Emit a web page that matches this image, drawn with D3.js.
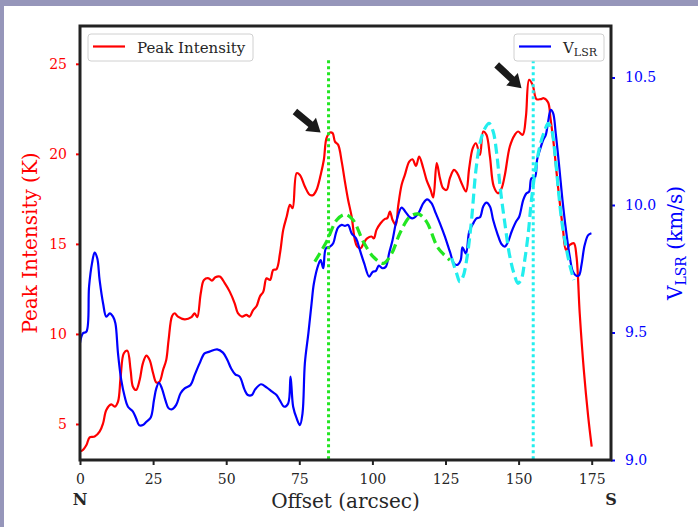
<!DOCTYPE html>
<html>
<head>
<meta charset="utf-8">
<script src="https://cdn.jsdelivr.net/npm/d3@7"></script>
<style>
body { margin: 0; background: #9696ba; }
svg { display: block; }
text { font-family: "DejaVu Serif", serif; }
</style>
</head>
<body>
<div class="chart"></div>
<script>
// Peak intensity (K) along the cut
var intensityOffset = [0, 0.7, 2.2, 3.3, 5.0, 6.7, 7.9, 9.0, 10.7, 11.9, 13.0, 13.9, 15.0, 16.2, 17.3, 18.1, 19.2, 20.4, 21.5, 22.7,
    23.8, 25.0, 26.1, 27.2, 28.4, 29.5, 30.3, 31.5, 32.4, 33.5, 35.8, 38.1, 39.2, 40.1, 41.3, 42.4, 44.0, 45.1, 46.3, 47.8,
    49.5, 51.2, 52.9, 54.0, 55.4, 56.9, 58.0, 59.1, 60.4, 61.5, 62.7, 63.8, 65.0, 66.1, 67.2, 68.4, 69.5, 70.7, 71.8, 72.7,
    74.1, 75.2, 76.9, 78.6, 79.8, 80.9, 82.3, 83.4, 84.3, 85.5, 86.4, 87.2, 88.3, 89.5, 90.6, 91.7, 92.9, 94.0, 94.8, 96.0,
    97.1, 98.2, 99.7, 100.5, 101.4, 102.8, 104.3, 105.1, 106.0, 106.9, 108.0, 108.8, 110.0, 111.1, 112.6, 113.7, 114.9, 116.0, 117.4, 118.5,
    119.9, 120.8, 122.0, 123.1, 124.2, 125.4, 126.5, 127.9, 129.0, 130.5, 132.0, 133.1, 134.3, 135.4, 136.8, 137.9, 139.0, 140.2, 141.5, 143.0,
    144.2, 145.3, 147.0, 148.7, 149.8, 151.4, 152.5, 153.6, 154.8, 156.1, 157.5, 158.6, 160.1, 160.9, 162.1, 163.0, 164.1, 165.2, 166.2, 167.5,
    168.9, 169.8, 170.9, 172.3, 173.8, 175.0];
var intensityK = [3.50, 3.52, 3.83, 4.26, 4.30, 4.57, 5.04, 5.78, 6.09, 5.96, 6.24, 7.63, 8.93, 9.07, 8.00, 7.07, 6.89, 7.44, 8.37, 8.80,
    8.56, 7.82, 7.30, 7.35, 8.00, 8.56, 9.67, 11.00, 11.15, 10.96, 10.81, 10.93, 11.15, 10.93, 12.26, 13.00, 13.09, 12.96, 13.15, 13.19,
    12.82, 12.35, 11.70, 11.15, 10.96, 11.06, 10.96, 11.30, 11.55, 12.07, 12.35, 13.09, 13.00, 13.56, 13.59, 14.48, 15.78, 16.52, 17.17, 16.98,
    18.93, 18.83, 18.19, 17.72, 17.72, 18.00, 18.83, 19.67, 20.87, 21.19, 21.15, 20.68, 20.50, 19.57, 18.46, 17.44, 16.52, 15.22, 14.85, 14.76,
    15.07, 15.31, 15.41, 15.31, 15.78, 16.15, 16.39, 16.43, 16.79, 16.33, 16.06, 17.09, 18.28, 18.83, 19.57, 19.70, 19.33, 19.85, 19.20, 18.56,
    18.00, 17.58, 19.48, 18.65, 18.09, 18.00, 18.65, 19.11, 18.93, 18.37, 17.91, 19.20, 20.31, 20.59, 19.94, 21.24, 21.06, 19.85, 18.19, 17.81,
    18.09, 18.83, 20.41, 21.06, 21.24, 21.06, 22.07, 24.11, 23.83, 23.04, 23.04, 23.09, 22.85, 21.98, 20.41, 18.93, 17.26, 15.78, 14.67, 14.94,
    15.04, 14.30, 11.15, 8.00, 5.41, 3.74];

// V_LSR (km/s) along the cut
var vlsrOffset = [0, 1.0, 2.2, 3.1, 4.1, 5.0, 5.9, 6.7, 7.9, 9.0, 10.2, 11.3, 12.1, 13.0, 14.1, 15.3, 16.4, 18.1, 19.2, 20.2,
    21.5, 22.7, 24.2, 25.3, 26.1, 27.0, 28.0, 29.2, 30.3, 31.5, 32.9, 34.4, 35.8, 37.8, 39.2, 40.9, 42.6, 44.3, 46.9, 48.9,
    50.4, 51.7, 53.1, 54.6, 56.3, 57.4, 58.8, 59.9, 61.9, 63.8, 65.7, 67.2, 68.4, 69.8, 71.2, 72.0, 72.9, 74.1, 75.2, 76.1,
    76.9, 78.1, 79.2, 80.0, 81.5, 82.3, 83.2, 84.1, 85.5, 86.6, 87.5, 88.3, 89.5, 90.6, 91.7, 92.9, 94.4, 95.7, 97.2, 98.9,
    100.1, 101.2, 102.2, 103.5, 104.6, 105.7, 106.9, 108.3, 110.0, 111.5, 112.8, 113.9, 115.7, 117.4, 118.7, 120.2, 121.7, 123.1, 124.8, 126.5,
    127.9, 129.0, 130.2, 130.8, 132.0, 133.1, 134.5, 135.6, 136.8, 137.9, 139.0, 140.2, 141.3, 142.7, 144.2, 145.3, 146.4, 147.6, 149.1, 150.2,
    151.6, 152.7, 153.6, 154.4, 155.6, 156.3, 157.3, 158.4, 159.3, 160.1, 161.0, 161.8, 162.7, 163.9, 165.0, 166.2, 167.5, 168.6, 169.8, 170.7,
    171.5, 172.6, 173.8, 174.9];
var vlsrKms = [9.459, 9.497, 9.503, 9.680, 9.771, 9.813, 9.791, 9.706, 9.614, 9.562, 9.575, 9.562, 9.536, 9.418, 9.314, 9.248, 9.209, 9.190, 9.163, 9.137,
    9.137, 9.150, 9.167, 9.235, 9.281, 9.303, 9.281, 9.235, 9.203, 9.199, 9.216, 9.262, 9.281, 9.294, 9.333, 9.379, 9.418, 9.425, 9.434, 9.421,
    9.392, 9.359, 9.336, 9.327, 9.275, 9.255, 9.255, 9.277, 9.297, 9.285, 9.268, 9.255, 9.233, 9.209, 9.222, 9.327, 9.209, 9.163, 9.137, 9.183,
    9.379, 9.497, 9.614, 9.693, 9.765, 9.784, 9.752, 9.830, 9.837, 9.850, 9.889, 9.912, 9.922, 9.918, 9.922, 9.889, 9.869, 9.824, 9.771, 9.719,
    9.738, 9.742, 9.762, 9.752, 9.758, 9.810, 9.863, 9.941, 9.990, 9.970, 9.952, 9.948, 9.967, 10.007, 10.022, 10.007, 9.967, 9.928, 9.876, 9.817,
    9.771, 9.765, 9.784, 9.834, 9.810, 9.895, 9.928, 9.948, 9.952, 9.994, 10.009, 9.994, 9.941, 9.889, 9.846, 9.837, 9.856, 9.895, 9.934, 9.954,
    10.020, 10.046, 10.052, 10.105, 10.109, 10.176, 10.216, 10.255, 10.275, 10.327, 10.373, 10.360, 10.281, 10.150, 10.020, 9.902, 9.797, 9.738, 9.722, 9.725,
    9.765, 9.843, 9.882, 9.889];

// fitted oscillations (dashed)
var greenFitOffset = [80.3, 84.3, 87.8, 90.6, 93.4, 96.9, 100.3, 103.7, 106.6, 109.4, 112.8, 115.7, 118.5, 122.5, 126.5];
var greenFitKms = [9.778, 9.856, 9.941, 9.963, 9.941, 9.856, 9.797, 9.771, 9.810, 9.889, 9.954, 9.965, 9.935, 9.831, 9.784];
var cyanFitOffset = [127.1, 128.8, 129.9, 131.0, 132.4, 133.9, 135.4, 136.8, 138.5, 139.9, 141.3, 142.5, 143.8, 145.3, 146.8, 148.4,
    149.8, 151.0, 152.1, 153.3, 154.4, 155.9, 157.5, 159.0, 160.1, 161.3, 162.4, 163.5, 164.7, 166.2, 167.5, 168.9];
var cyanFitKms = [9.791, 9.732, 9.699, 9.719, 9.797, 9.941, 10.137, 10.242, 10.301, 10.320, 10.288, 10.203, 10.059, 9.928, 9.810, 9.732,
    9.693, 9.712, 9.784, 9.889, 10.020, 10.150, 10.242, 10.294, 10.320, 10.294, 10.203, 10.072, 9.941, 9.837, 9.765, 9.706];

// dotted marker lines and arrows
var markerOffsets = [85, 155];
var markerColors = ["#22e622", "#22eeee"];
var arrowTailOffset = [73.5, 142.5];
var arrowTailK = [22.35, 24.94];
var arrowTipOffset = [82.3, 151.0];
var arrowTipK = [21.18, 23.65];

var xTicks = [0, 25, 50, 75, 100, 125, 150, 175];
var leftTicks = [5, 10, 15, 20, 25];
var rightTicks = [9.0, 9.5, 10.0, 10.5];

var svgWidth = 698;
var svgHeight = 527;
var margin = { top: 26, right: 87, bottom: 67, left: 80 };
var width = svgWidth - margin.left - margin.right;
var height = svgHeight - margin.top - margin.bottom;

var svg = d3.select(".chart")
    .append("svg")
    .attr("width", svgWidth)
    .attr("height", svgHeight);

// lavender frame, white page
svg.append("rect").attr("width", svgWidth).attr("height", svgHeight).attr("fill", "#9696ba");
svg.append("rect").attr("x", 4).attr("y", 6).attr("width", svgWidth - 4).attr("height", svgHeight - 6).attr("fill", "white");

var chartGroup = svg.append("g")
    .attr("transform", `translate(${margin.left}, ${margin.top})`);

// scales
var xScale = d3.scaleLinear().domain([0, 181.6]).range([0, width]);
var yLeft = d3.scaleLinear().domain([3, 27.1]).range([height, 0]);
var yRight = d3.scaleLinear().domain([9, 10.702]).range([height, 0]);

var intensityData = intensityOffset.map((d, i) => [d, intensityK[i]]);
var vlsrData = vlsrOffset.map((d, i) => [d, vlsrKms[i]]);
var greenData = greenFitOffset.map((d, i) => [d, greenFitKms[i]]);
var cyanData = cyanFitOffset.map((d, i) => [d, cyanFitKms[i]]);

var leftLine = d3.line().x(d => xScale(d[0])).y(d => yLeft(d[1])).curve(d3.curveCatmullRom.alpha(0.5));
var rightLine = d3.line().x(d => xScale(d[0])).y(d => yRight(d[1])).curve(d3.curveCatmullRom.alpha(0.5));

chartGroup.append("path").datum(intensityData)
    .attr("d", leftLine).attr("fill", "none").attr("stroke", "red").attr("stroke-width", 2.2);

chartGroup.append("path").datum(vlsrData)
    .attr("d", rightLine).attr("fill", "none").attr("stroke", "blue").attr("stroke-width", 2.2);

chartGroup.append("path").datum(greenData)
    .attr("d", rightLine).attr("fill", "none").attr("stroke", markerColors[0])
    .attr("stroke-width", 3.2).attr("stroke-dasharray", "10,5");

chartGroup.append("path").datum(cyanData)
    .attr("d", rightLine).attr("fill", "none").attr("stroke", markerColors[1])
    .attr("stroke-width", 3.2).attr("stroke-dasharray", "10,5");

// dotted vertical markers
chartGroup.selectAll(".marker")
    .data(markerOffsets)
    .enter()
    .append("line")
    .attr("x1", d => xScale(d)).attr("x2", d => xScale(d))
    .attr("y1", yLeft(25.2)).attr("y2", height)
    .attr("stroke", (d, i) => markerColors[i])
    .attr("stroke-width", 3)
    .attr("stroke-dasharray", "3,3");

// arrows
function arrowPoints(t, h) {
    var dx = h[0] - t[0], dy = h[1] - t[1];
    var len = Math.sqrt(dx * dx + dy * dy);
    var ux = dx / len, uy = dy / len, nx = -uy, ny = ux;
    var bx = h[0] - ux * 13, by = h[1] - uy * 13;
    var sw = 3.5, hw = 8.5;
    return [
        [t[0] + nx * sw, t[1] + ny * sw], [bx + nx * sw, by + ny * sw], [bx + nx * hw, by + ny * hw],
        h, [bx - nx * hw, by - ny * hw], [bx - nx * sw, by - ny * sw], [t[0] - nx * sw, t[1] - ny * sw]
    ].map(p => p.join(",")).join(" ");
}
arrowTailOffset.forEach(function(d, i) {
    var t = [xScale(d), yLeft(arrowTailK[i])];
    var h = [xScale(arrowTipOffset[i]), yLeft(arrowTipK[i])];
    chartGroup.append("polygon").attr("points", arrowPoints(t, h)).attr("fill", "#1a1a1a");
});

// axes
var bottomAxis = d3.axisBottom(xScale).tickValues(xTicks).tickSize(5).tickPadding(9);
var leftAxis = d3.axisLeft(yLeft).tickValues(leftTicks).tickSize(4).tickPadding(9);
var rightAxis = d3.axisRight(yRight).tickValues(rightTicks).tickSize(4).tickPadding(10)
    .tickFormat(d3.format(".1f"));

var gx = chartGroup.append("g").attr("transform", `translate(0, ${height})`).call(bottomAxis);
gx.select(".domain").remove();
gx.selectAll("line").attr("stroke", "#222").attr("stroke-width", 2);
gx.selectAll("text").attr("fill", "#262626").style("font-size", "14px").style("font-family", "DejaVu Serif");

var gl = chartGroup.append("g").call(leftAxis);
gl.select(".domain").remove();
gl.selectAll("line").attr("stroke", "red").attr("stroke-width", 2);
gl.selectAll("text").attr("fill", "red").style("font-size", "14px").style("font-family", "DejaVu Serif");

var gr = chartGroup.append("g").attr("transform", `translate(${width}, 0)`).call(rightAxis);
gr.select(".domain").remove();
gr.selectAll("line").attr("stroke", "blue").attr("stroke-width", 2);
gr.selectAll("text").attr("fill", "blue").style("font-size", "14px").style("font-family", "DejaVu Serif");

// spines
chartGroup.append("rect")
    .attr("width", width).attr("height", height)
    .attr("fill", "none").attr("stroke", "#222").attr("stroke-width", 3);

// axis labels
chartGroup.append("text")
    .attr("transform", `translate(${37 - margin.left}, ${height / 2}) rotate(-90)`)
    .attr("text-anchor", "middle").attr("fill", "red").style("font-size", "20px")
    .text("Peak Intensity (K)");

var rl = chartGroup.append("text")
    .attr("transform", `translate(${width + 71}, ${height / 2}) rotate(-90)`)
    .attr("text-anchor", "middle").attr("fill", "blue").style("font-size", "20px");
rl.append("tspan").text("V");
rl.append("tspan").attr("dy", 4).style("font-size", "14px").text("LSR");
rl.append("tspan").attr("dy", -4).text(" (km/s)");

chartGroup.append("text")
    .attr("x", width / 2).attr("y", height + 48)
    .attr("text-anchor", "middle").attr("fill", "#262626").style("font-size", "20px")
    .text("Offset (arcsec)");

chartGroup.append("text")
    .attr("x", 0).attr("y", height + 45)
    .attr("text-anchor", "middle").attr("fill", "#262626").style("font-size", "16px").style("font-weight", "bold")
    .text("N");
chartGroup.append("text")
    .attr("x", width).attr("y", height + 45)
    .attr("text-anchor", "middle").attr("fill", "#262626").style("font-size", "16px").style("font-weight", "bold")
    .text("S");

// legends
var legL = chartGroup.append("g").attr("transform", "translate(8, 8)");
legL.append("rect").attr("width", 165).attr("height", 27).attr("rx", 3)
    .attr("fill", "white").attr("fill-opacity", 0.85).attr("stroke", "#d0d0d0");
legL.append("line").attr("x1", 5).attr("x2", 37).attr("y1", 12.5).attr("y2", 12.5)
    .attr("stroke", "red").attr("stroke-width", 2.2);
legL.append("text").attr("x", 49).attr("y", 18.5).attr("fill", "#262626").style("font-size", "15px")
    .text("Peak Intensity");

var legR = chartGroup.append("g").attr("transform", `translate(${width - 97}, 8)`);
legR.append("rect").attr("width", 90).attr("height", 27).attr("rx", 3)
    .attr("fill", "white").attr("fill-opacity", 0.85).attr("stroke", "#d0d0d0");
legR.append("line").attr("x1", 5).attr("x2", 37).attr("y1", 12.5).attr("y2", 12.5)
    .attr("stroke", "blue").attr("stroke-width", 2.2);
var lt = legR.append("text").attr("x", 49).attr("y", 18.5).attr("fill", "#262626").style("font-size", "15px");
lt.append("tspan").text("V");
lt.append("tspan").attr("dy", 3).style("font-size", "11px").text("LSR");
</script>
</body>
</html>
